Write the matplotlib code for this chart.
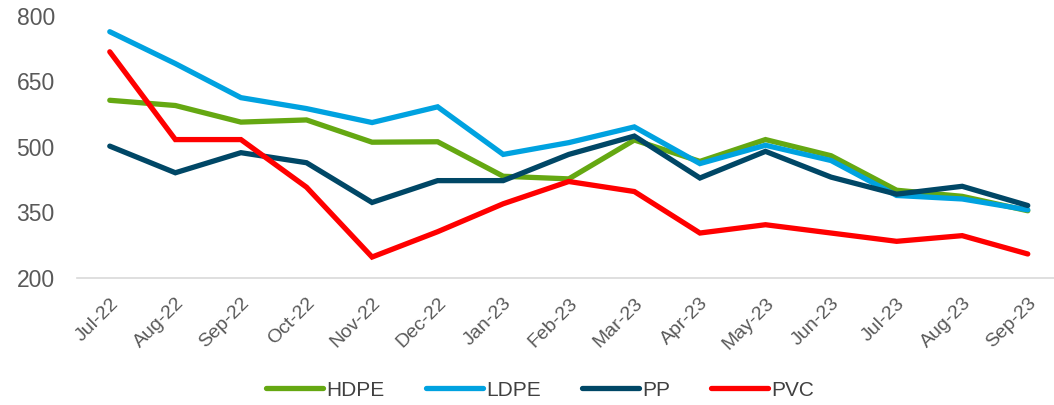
import matplotlib
matplotlib.use("Agg")
import matplotlib.pyplot as plt
from matplotlib.transforms import ScaledTranslation

months = ["Jul-22", "Aug-22", "Sep-22", "Oct-22", "Nov-22", "Dec-22", "Jan-23", "Feb-23",
          "Mar-23", "Apr-23", "May-23", "Jun-23", "Jul-23", "Aug-23", "Sep-23"]
hdpe = [607, 595, 557, 562, 511, 512, 433, 427, 516, 467, 517, 480, 401, 387, 354]
ldpe = [764, 691, 613, 588, 556, 592, 483, 510, 546, 462, 504, 469, 389, 381, 356]
pp = [502, 441, 487, 464, 373, 423, 423, 483, 525, 429, 490, 431, 392, 410, 366]
pvc = [718, 517, 517, 408, 248, 306, 370, 421, 398, 303, 322, 303, 284, 297, 255]

plt.rcParams["font.family"] = ["Liberation Sans", "DejaVu Sans"]

W, H = 1054, 405
fig = plt.figure(figsize=(W / 100, H / 100), dpi=100)
ax = fig.add_axes([77 / W, 127 / H, (W - 77) / W, 262 / H])

x = range(len(months))
series = [("HDPE", hdpe, "#65A812"), ("LDPE", ldpe, "#00A2E0"),
          ("PP", pp, "#004766"), ("PVC", pvc, "#FF0000")]
for name, vals, col in series:
    ax.plot(x, vals, color=col, linewidth=3.8, label=name,
            solid_capstyle="round", solid_joinstyle="miter")

ax.set_xlim(-0.5, 14.4)
ax.set_ylim(200, 800)
ax.set_yticks([200, 350, 500, 650, 800])
ax.set_xticks(list(x))
ax.set_xticklabels(months, rotation=45, ha="right", rotation_mode="anchor")
shift = ScaledTranslation(5 / 100, 0, fig.dpi_scale_trans)
for lbl in ax.get_xticklabels():
    lbl.set_transform(lbl.get_transform() + shift)
ax.tick_params(axis="y", length=0, pad=16, labelsize=16.5, labelcolor="#595959")
ax.tick_params(axis="x", length=0, pad=12, labelsize=14, labelcolor="#595959")
for s in ["top", "right", "left"]:
    ax.spines[s].set_visible(False)
ax.spines["bottom"].set_color("#d9d9d9")
ax.spines["bottom"].set_linewidth(1.2)

leg = fig.legend(loc="center", bbox_to_anchor=(540 / W, 15 / H), ncol=4, frameon=False,
                 fontsize=15, handlelength=2.74, handletextpad=0.15, columnspacing=1.97)
for t in leg.get_texts():
    t.set_color("#404040")

fig.savefig("out.png", dpi=100)
